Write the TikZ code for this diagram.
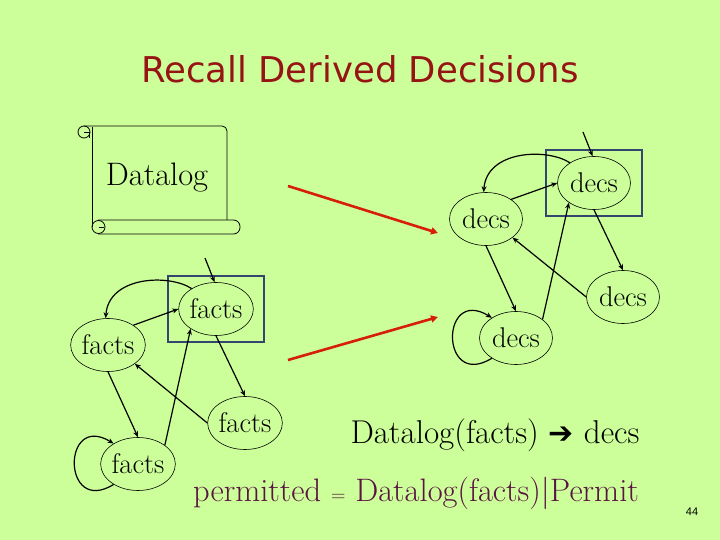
\documentclass[tikz,border=0pt]{standalone}
\usepackage{fontspec}
\newfontfamily\titlefont{DejaVu Sans}
\newfontfamily\symfont{DejaVu Sans}
\newfontfamily\numfont{Liberation Sans}
\usetikzlibrary{arrows.meta,shapes.geometric}
\definecolor{bg}{RGB}{204,255,153}
\definecolor{titlec}{RGB}{150,20,20}
\definecolor{permc}{RGB}{90,20,65}
\definecolor{boxc}{RGB}{50,70,110}
\definecolor{redc}{RGB}{215,30,10}
\newcommand{\netgraph}[3]{%
\begin{scope}[shift={#3}]
  \node[hl] (#1box) at (594,183) {};
  \node[st] (#1a) at (594,183) {#2};
  \node[st] (#1b) at (486,219) {#2};
  \node[st] (#1c) at (623,297) {#2};
  \node[st] (#1d) at (516,338) {#2};
  \coordinate (#1in) at (583,132);
  \draw[edge] (#1in) -- (#1a.93);
  \draw[edge] (#1a.140) .. controls +(-23,-15) and +(3,-42) .. (#1b.95);
  \draw[edge] (#1b.38) -- (#1a.180);
  \draw[edge] (#1a.south) -- (#1c.north);
  \draw[edge] (#1c.west) -- (#1b.-35);
  \draw[edge] (#1b.south) -- (#1d.north);
  \draw[edge] (#1d.35) -- (#1a.218);
  \draw[edge] (#1d.220) .. controls +(-52,32) and +(-52,-32) .. (#1d.140);
\end{scope}}
\begin{document}
\begin{tikzpicture}[x=1pt,y=-1pt,
  st/.style={draw, ellipse, line width=0.6pt, minimum width=73pt, minimum height=53pt, inner sep=0pt, font=\fontsize{28.5}{32}\selectfont},
  edge/.style={line width=1.2pt, -{Stealth[length=6pt,width=5pt]}},
  hl/.style={draw=boxc, line width=1.8pt, minimum width=96pt, minimum height=66pt, inner sep=0pt},
  redarr/.style={draw=redc, line width=2.6pt, -{Triangle[length=7pt,width=7pt]}},
  scroll/.style={line width=0.8pt}]
\fill[bg] (0,0) rectangle (720,540);
\useasboundingbox (0,0) rectangle (720,540);
% title
\node[font=\titlefont\fontsize{35.5}{42}\selectfont, text=titlec, anchor=base] (title) at (360,83) {Recall Derived Decisions};
% scroll
\draw[scroll, rounded corners=5pt] (84,126) -- (227,126) -- (227,220);
\draw[scroll] (92,127) -- (92,227);
\draw[scroll] (84,132) circle[radius=6];
\draw[scroll] (84,132) -- (89,132) -- (89,138);
\draw[scroll, rounded corners=6.5pt] (98,220) -- (240,220) -- (240,234) -- (98,234);
\draw[scroll] (98.5,227) circle[radius=6.5];
\draw[scroll] (98.5,227) -- (104,227);
\node[font=\fontsize{32.5}{36}\selectfont, anchor=base] (dl) at (157,186) {Datalog};
% graphs
\netgraph{r}{decs}{(0,0)}
\netgraph{l}{facts}{(-378,126)}
% red arrows
\coordinate (r1s) at (288,186);
\coordinate (r1e) at (438,233);
\coordinate (r2s) at (288,360);
\coordinate (r2e) at (438,317);
\draw[redarr] (r1s) -- (r1e);
\draw[redarr] (r2s) -- (r2e);
% formulas
\node[font=\fontsize{33}{38}\selectfont, anchor=base] (eq1) at (495,443) {Datalog(facts) {\symfont\fontsize{30}{34}\selectfont ➔} decs};
\node[font=\fontsize{32.5}{38}\selectfont, text=permc, anchor=base] (eq2) at (416,501) {permitted {\fontsize{20}{22}\selectfont =} Datalog(facts)|Permit};
\node[font=\numfont\fontsize{11}{13}\selectfont] (pg) at (692,512) {44};
\end{tikzpicture}
\end{document}
